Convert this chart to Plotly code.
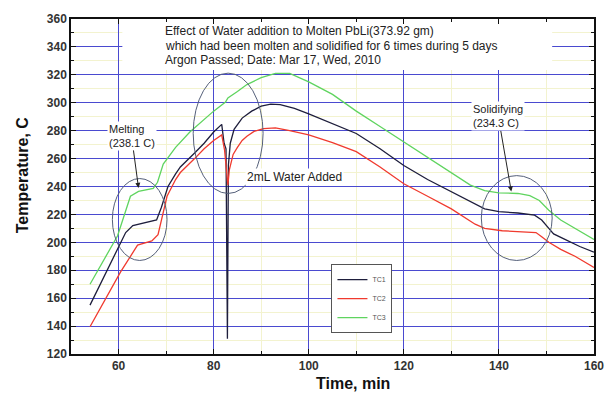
import plotly.graph_objects as go

# ---- data ----
tc1_t = [54, 60, 61.5, 63, 65.5, 68, 69, 70.4, 72, 73, 76, 78, 80, 81.7, 82.2, 82.6, 82.9, 83.1,
         83.5, 84.3, 86, 88, 90, 92, 94, 97, 100, 105, 110, 115, 120, 125, 130, 135, 137, 140,
         144, 147.5, 149, 150.5, 151.5, 154, 157, 160]
tc1_v = [155, 197.5, 207, 212, 214, 216, 225, 240, 249, 254, 264, 271, 279, 284.5, 271, 267, 131, 255,
         271, 281, 289, 294, 297.5, 299, 298.6, 296, 292, 285, 278, 267, 255, 245, 236, 227, 224, 222,
         221, 219.5, 216, 210, 206, 202, 197, 193]

tc2_t = [54, 60.4, 64, 67, 68.3, 69.2, 70.2, 72, 73, 76, 78, 80, 81.7, 82.3, 82.8, 83.0, 83.3, 84.1,
         85, 86, 87, 88.5, 90.5, 93, 96, 100, 105, 110, 115, 120, 125, 130, 135, 137, 140.7, 144,
         147.8, 149, 150.5, 153, 156, 160]
tc2_v = [139.5, 178.6, 198, 201, 205.5, 218.7, 233, 245, 250, 260, 267, 273, 277, 266, 248, 241, 252, 263,
         268, 273, 276, 279.5, 281.5, 282, 280, 277, 271.5, 265, 254, 242, 233, 224, 213, 210, 208.3, 207.5,
         207, 204, 200, 195, 190, 182]

tc3_t = [54, 59.8, 62.5, 64.2, 67.3, 68.2, 69.4, 72, 75, 78, 80, 82.5, 83, 85, 87, 90, 93, 96, 98,
         100, 105, 110, 115, 120, 125, 130, 134, 137, 140, 144, 146.5, 148.5, 150.5, 153, 156, 160]
tc3_v = [170, 204.7, 233, 236.5, 238.6, 243, 256, 268, 279, 288, 294, 300.5, 303.5, 308, 313, 318, 321, 321, 318,
         315, 306, 294, 283, 272, 261, 250, 241, 237, 235.5, 235, 233.5, 230, 223, 216, 210, 202]

series_names = ["TC1", "TC2", "TC3"]
x_ticks = [60, 80, 100, 120, 140, 160]
y_ticks = [120, 140, 160, 180, 200, 220, 240, 260, 280, 300, 320, 340, 360]

title_lines = ["Effect of Water addition to Molten PbLi(373.92 gm)",
               "which had been molten and solidified for 6 times during 5 days",
               "Argon Passed; Date: Mar 17, Wed, 2010"]
title_y = [351.5, 341, 330.5]

# ellipses marking the events: (x0, x1, y0, y1)
ellipses = [(58.7, 70.2, 187, 245.7), (75.7, 90.4, 235, 321.2), (136.3, 151.2, 187, 247.8)]

FONT = "Liberation Sans, Arial, sans-serif"

fig = go.Figure()
colors = ["#1e1e3c", "#f03a2e", "#5fd45f"]
for name, t, v, c in zip(series_names, [tc1_t, tc2_t, tc3_t], [tc1_v, tc2_v, tc3_v], colors):
    fig.add_trace(go.Scatter(x=t, y=v, mode="lines", name=name,
                             line=dict(color=c, width=1.3)))

# white box behind the header text (covers grid lines)
fig.add_shape(type="rect", x0=60.8, x1=151.2, y0=323.5, y1=360, xref="x", yref="y",
              fillcolor="white", line=dict(width=0), layer="between")

for (x0, x1, y0, y1) in ellipses:
    fig.add_shape(type="circle", x0=x0, x1=x1, y0=y0, y1=y1, xref="x", yref="y",
                  line=dict(color="#55607a", width=1), layer="above")

for txt, yy in zip(title_lines, title_y):
    fig.add_annotation(x=69.4, y=yy, xref="x", yref="y", text=txt, showarrow=False,
                       xanchor="left", yanchor="middle",
                       font=dict(family=FONT, size=12, color="#222"))

fig.add_annotation(x=64.2, y=239, xref="x", yref="y", text="Melting<br>(238.1 C)",
                   showarrow=True, ax=-7, ay=-52, arrowhead=2, arrowsize=1, arrowwidth=1,
                   arrowcolor="#222", align="left", bgcolor="white",
                   font=dict(family=FONT, size=11, color="#222"))
fig.add_annotation(x=142.6, y=236.5, xref="x", yref="y", text="Solidifying<br>(234.3 C)",
                   showarrow=True, ax=-13, ay=-75, arrowhead=2, arrowsize=1, arrowwidth=1,
                   arrowcolor="#222", align="left", bgcolor="white",
                   font=dict(family=FONT, size=11, color="#222"))
fig.add_annotation(x=97.1, y=247, xref="x", yref="y", text="2mL Water Added",
                   showarrow=False, bgcolor="white",
                   font=dict(family=FONT, size=12, color="#222"))

axis_common = dict(showline=True, linecolor="#111", linewidth=1.5, mirror="ticks",
                   ticks="inside", ticklen=5, tickwidth=1, tickcolor="#111",
                   showgrid=True, gridcolor="#4a4ad0", gridwidth=1, zeroline=False,
                   tickfont=dict(family=FONT, size=12, color="#333", weight="bold"))

fig.update_xaxes(range=[50, 160], tickvals=x_ticks,
                 minor=dict(dtick=10, tick0=50, ticks="inside", ticklen=3, tickcolor="#111",
                            showgrid=True, gridcolor="#f3f3cf", gridwidth=1),
                 **axis_common)
fig.update_yaxes(range=[120, 360], tickvals=y_ticks,
                 minor=dict(dtick=10, tick0=120, ticks="inside", ticklen=3, tickcolor="#111",
                            showgrid=True, gridcolor="#f3f3cf", gridwidth=1),
                 **axis_common)

fig.update_layout(
    width=616, height=396,
    margin=dict(l=71, r=21, t=13, b=42),
    paper_bgcolor="white", plot_bgcolor="white",
    font=dict(family=FONT),
    showlegend=True,
    legend=dict(x=0.498, y=0.268, xanchor="left", yanchor="top",
                bgcolor="white", bordercolor="#555", borderwidth=1,
                font=dict(family=FONT, size=7, color="#555"), itemwidth=30,
                tracegroupgap=0),
)

# axis titles positioned in pixels
fig.add_annotation(x=-49 / 524, y=(354 - 172) / 341, xref="paper", yref="paper",
                   text="<b>Temperature, C</b>", showarrow=False, textangle=-90,
                   xanchor="center", yanchor="middle",
                   font=dict(family=FONT, size=16, color="#111"))
fig.add_annotation(x=(354 - 71) / 524, y=-(384 - 354) / 341, xref="paper", yref="paper",
                   text="<b>Time, min</b>", showarrow=False,
                   xanchor="center", yanchor="middle",
                   font=dict(family=FONT, size=16, color="#111"))

fig.write_html("out.html")
